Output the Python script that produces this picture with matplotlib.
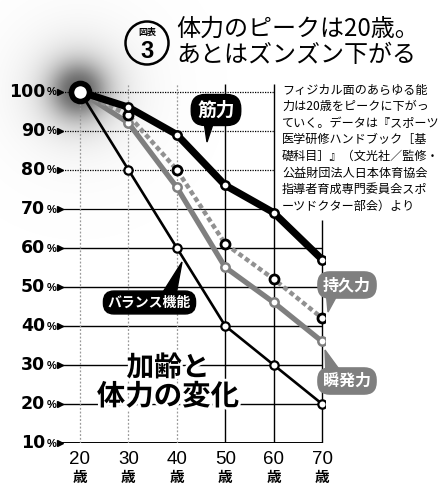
import numpy as np
import matplotlib
matplotlib.use("Agg")
import matplotlib.pyplot as plt
import matplotlib.patheffects as pe
from matplotlib.patches import Circle
from matplotlib.transforms import blended_transform_factory

plt.rcParams['font.family'] = ['Noto Sans CJK JP', 'DejaVu Sans']

# data (percent of the value at age 20)
ages = [20, 30, 40, 50, 60, 70]
muscle = [100, 96, 89, 76, 69, 57]        # 筋力
endurance = [100, 94, 80, 61, 52, 42]     # 持久力
power = [100, 92, 75.5, 55, 46, 36]       # 瞬発力
balance = [100, 80, 60, 40, 30, 20]       # バランス機能
yticks = [10, 20, 30, 40, 50, 60, 70, 80, 90, 100]

note_lines = [
    "フィジカル面のあらゆる能",
    "力は20歳をピークに下がっ",
    "ていく。データは『スポーツ",
    "医学研修ハンドブック［基",
    "礎科目］』（文光社／監修・",
    "公益財団法人日本体育協会",
    "指導者育成専門委員会スポ",
    "ーツドクター部会）より",
]

GREY = '#7f7f7f'
W, H = 444, 497

fig = plt.figure(figsize=(W / 100, H / 100), dpi=100)

# background axes in pixel coordinates (halo, title, note)
bg = fig.add_axes([0, 0, 1, 1], zorder=0)
bg.set_xlim(0, W)
bg.set_ylim(H, 0)
bg.axis('off')

yy, xx = np.mgrid[0:H, 0:W]
r = np.hypot(xx - 78, yy - 90)
halo = np.zeros((H, W, 4))
halo[..., 3] = 0.6 / (1 + (r / 28.0) ** 3)
bg.imshow(halo, extent=(0, W, H, 0), interpolation='bilinear')

# badge + title
bg.add_patch(Circle((147, 43), 21.5, fill=False, ec='black', lw=1.8))
bg.text(147, 32, "図表", ha='center', va='center', fontsize=6.5, fontweight='bold')
bg.text(147, 51, "3", ha='center', va='center', fontsize=17, fontweight='bold',
        family='Liberation Sans')
bg.text(176, 41.5, "体力のピークは20歳。\nあとはズンズン下がる", ha='left', va='center',
        fontsize=17.3, linespacing=1.0)

for i, line in enumerate(note_lines):
    bg.text(282, 90 + i * 16.6, line, ha='left', va='center', fontsize=8.7)

# main chart
ax = fig.add_axes([62 / W, (H - 443) / H, 263 / W, 367 / H], zorder=1)
ax.set_facecolor('none')
ax.set_xlim(16.3, 70.6)
ax.set_ylim(10, 104)
for s in ax.spines.values():
    s.set_visible(False)
ax.set_xticks([])
ax.set_yticks([])


def px(x, y):
    # pixel position of the picture -> data coordinates (for labels only)
    return ax.transData.inverted().transform(fig.transFigure.transform((x / W, 1 - y / H)))


x0 = ax.get_xlim()[0]
for v in yticks:
    if v >= 80:
        ax.hlines(v, x0, 60, colors='black', lw=0.9, linestyles=(0, (1, 1)), zorder=1)
    elif v == 70:
        ax.hlines(v, x0, 60, colors='black', lw=0.9, zorder=1)
    else:
        ax.hlines(v, x0, 70, colors='black', lw=1.0 if v > 10 else 1.4, zorder=1)
for a in ages:
    if a <= 40:
        ax.vlines(a, 10, 102, colors='#999999', lw=0.9, linestyles=(0, (1.5, 1.5)), zorder=1)
    elif a < 70:
        ax.vlines(a, 10, 102, colors='black', lw=1.0, zorder=1)
    else:
        ax.vlines(a, 10, 67, colors='black', lw=1.0, zorder=1)

# y tick labels with small triangles
tr = blended_transform_factory(ax.transAxes, ax.transData)
for v in yticks:
    ax.text(-0.064, v, str(v), transform=tr, ha='right', va='center',
            fontsize=12.5, fontweight='bold', family='DejaVu Sans')
    ax.text(-0.022, v - 0.2, "%", transform=tr, ha='right', va='center',
            fontsize=8, fontweight='bold', family='Liberation Sans')
    ax.plot([-0.008], [v], transform=tr, marker='>', ms=4.5, color='black',
            clip_on=False)

# x tick labels
trx = blended_transform_factory(ax.transData, ax.transAxes)
for a in ages:
    ax.text(a, -0.045, str(a), transform=trx, ha='center', va='center',
            fontsize=13.5, family='Liberation Sans')
    ax.text(a, -0.094, "歳", transform=trx, ha='center', va='center',
            fontsize=10.5, fontweight='bold')

# series
ax.plot(ages, power, color=GREY, lw=3.8, solid_joinstyle='round', zorder=3,
        marker='o', ms=6, mfc='white', mec=GREY, mew=1.8)
ax.plot(ages, endurance, color='#919191', lw=3.2, linestyle=(0, (1.1, 0.7)), zorder=4)
ax.plot(ages[1:], endurance[1:], ls='none', marker='o', ms=6.5, mfc='white',
        mec='black', mew=2, zorder=5)
ax.plot(ages, balance, color='black', lw=1.9, zorder=5,
        marker='o', ms=6, mfc='white', mec='black', mew=1.6)
ax.plot(ages, muscle, color='black', lw=5.2, solid_joinstyle='round', zorder=6,
        marker='o', ms=6, mfc='white', mec='black', mew=1.8)
ax.plot(ages[:1], muscle[:1], ls='none', marker='o', ms=13, mfc='white',
        mec='black', mew=4, zorder=7)

# big caption
outline = [pe.withStroke(linewidth=4, foreground='white')]
ax.text(*px(168, 368), "加齢と", ha='center', va='center', fontsize=20,
        fontweight='bold', zorder=8, path_effects=outline)
ax.text(*px(168, 397), "体力の変化", ha='center', va='center', fontsize=20.5,
        fontweight='bold', zorder=8, path_effects=outline)


def bubble(text, center, tail, color, size):
    ax.text(*px(*center), text, ha='center', va='center', color='white',
            fontsize=size, fontweight='bold', zorder=10,
            bbox=dict(boxstyle='round,pad=0.32,rounding_size=0.75', fc=color, ec=color))
    pts = np.array([px(*p) for p in tail])
    ax.fill(pts[:, 0], pts[:, 1], color=color, zorder=9, clip_on=False)


bubble("筋力", (216, 110), [(203, 115), (216, 115), (207, 142)], 'black', 13.5)
bubble("バランス機能", (149.5, 302.5), [(158, 300), (175, 300), (182, 262)], 'black', 10)
bubble("持久力", (347, 285), [(326, 290), (340, 290), (328, 312)], GREY, 11.5)
bubble("瞬発力", (347, 381), [(326, 376), (344, 376), (325, 350)], GREY, 11.5)

fig.savefig("out.png", dpi=100)
